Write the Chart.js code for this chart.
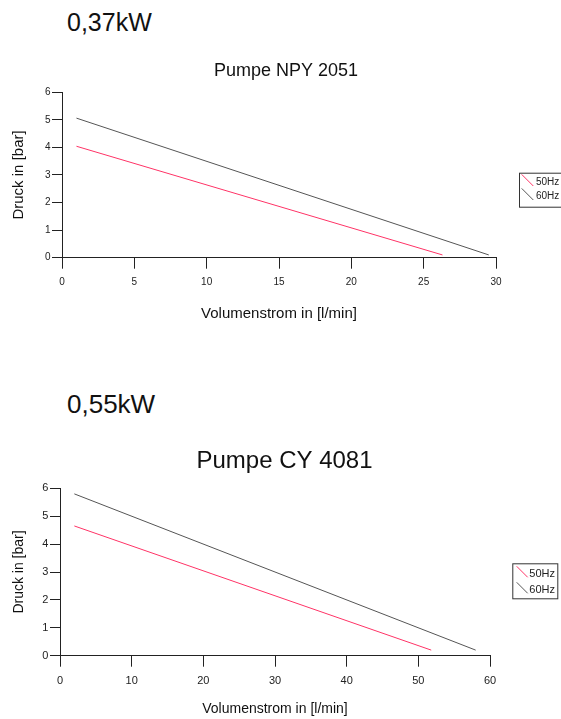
<!DOCTYPE html>
<html>
<head>
<meta charset="utf-8">
<script src="https://cdn.jsdelivr.net/npm/chart.js@4"></script>
<style>
  html, body { margin: 0; padding: 0; background: #fff; }
  body { width: 561px; height: 719px; position: relative; overflow: hidden; font-family: "Liberation Sans", Arial, sans-serif; color: #111; }
  .kw { position: absolute; left: 67px; white-space: nowrap; }
  .box { position: absolute; left: 0; width: 561px; }
</style>
</head>
<body>
<div class="kw" style="top:10px; font-size:25px; line-height:25px;">0,37kW</div>
<div class="box" style="top:40px; height:290px;"><canvas id="chartNpy"></canvas></div>
<div class="kw" style="top:391px; font-size:26px; line-height:26px;">0,55kW</div>
<div class="box" style="top:420px; height:299px;"><canvas id="chartCy"></canvas></div>
<script>
// Werte
const seriesLabels = ['50Hz', '60Hz'];
const seriesColors = ['#ff3366', '#555555'];

// Pumpe NPY 2051
const npyFlow50 = [1, 26.3];
const npyPressure50 = [4.04, 0.1];
const npyFlow60 = [1, 29.5];
const npyPressure60 = [5.06, 0.1];
const npyFlowTicks = [0, 5, 10, 15, 20, 25, 30];
const npyPressureTicks = [0, 1, 2, 3, 4, 5, 6];

// Pumpe CY 4081
const cyFlow50 = [2, 51.8];
const cyPressure50 = [4.65, 0.2];
const cyFlow60 = [2, 58];
const cyPressure60 = [5.8, 0.2];
const cyFlowTicks = [0, 10, 20, 30, 40, 50, 60];
const cyPressureTicks = [0, 1, 2, 3, 4, 5, 6];

Chart.defaults.font.family = '"Liberation Sans", Arial, sans-serif';
Chart.defaults.color = '#222';

function toPoints(xs, ys) {
    return xs.map((x, i) => ({ x: x, y: ys[i] }));
}

// Legende mit Rahmen und schraegem Strich, wie im Original
const boxedLegend = {
    id: 'boxedLegend',
    afterDraw(chart, args, opts) {
        const ctx = chart.ctx;
        ctx.save();
        ctx.strokeStyle = '#333';
        ctx.lineWidth = 1;
        ctx.strokeRect(opts.left + 0.5, opts.top + 0.5, opts.width, opts.height);
        ctx.font = opts.fontSize + 'px "Liberation Sans", Arial, sans-serif';
        ctx.textBaseline = 'middle';
        ctx.textAlign = 'left';
        chart.data.datasets.forEach((ds, i) => {
            const cy = opts.top + opts.firstRow + i * opts.rowGap;
            const sx = opts.left + opts.symbolLeft;
            const sy = cy - opts.symbolShift - opts.symbolSize / 2;
            ctx.strokeStyle = ds.borderColor;
            ctx.beginPath();
            ctx.moveTo(sx, sy);
            ctx.lineTo(sx + opts.symbolSize, sy + opts.symbolSize);
            ctx.stroke();
            ctx.fillStyle = '#222';
            ctx.fillText(ds.label, opts.left + opts.textLeft, cy);
        });
        ctx.restore();
    }
};

function makeChart(canvasId, cfg) {
    const datasets = cfg.series.map((s, i) => ({
        label: seriesLabels[i],
        data: toPoints(s[0], s[1]),
        borderColor: seriesColors[i],
        backgroundColor: seriesColors[i],
        borderWidth: 1,
        pointRadius: 0,
        fill: false,
        tension: 0
    }));

    return new Chart(document.getElementById(canvasId), {
        type: 'line',
        data: { datasets: datasets },
        plugins: [boxedLegend],
        options: {
            responsive: true,
            maintainAspectRatio: false,
            animation: false,
            layout: { padding: { left: cfg.padLeft, right: 0, top: 0, bottom: 0 } },
            plugins: {
                legend: { display: false },
                tooltip: { enabled: false },
                title: {
                    display: true,
                    text: cfg.title,
                    color: '#111',
                    font: { size: cfg.titleSize, weight: 'normal' },
                    padding: { top: cfg.titleTop, bottom: cfg.titleBottom }
                },
                boxedLegend: cfg.legend
            },
            scales: {
                x: {
                    type: 'linear',
                    min: cfg.xTicks[0],
                    max: cfg.xTicks[cfg.xTicks.length - 1],
                    afterBuildTicks: s => { s.ticks = cfg.xTicks.map(v => ({ value: v })); },
                    afterFit: s => { s.height = cfg.xHeight; },
                    grid: { drawOnChartArea: false, drawTicks: true, tickLength: 11, color: '#222' },
                    border: { display: true, color: '#222', width: 1 },
                    ticks: { font: { size: cfg.tickSize }, padding: cfg.xTickPad, maxRotation: 0, color: '#222' },
                    title: {
                        display: true,
                        text: 'Volumenstrom in [l/min]',
                        color: '#111',
                        font: { size: cfg.axisTitleSize },
                        padding: { top: 0, bottom: cfg.xTitleBottom }
                    }
                },
                y: {
                    type: 'linear',
                    min: cfg.yTicks[0],
                    max: cfg.yTicks[cfg.yTicks.length - 1],
                    afterBuildTicks: s => { s.ticks = cfg.yTicks.map(v => ({ value: v })); },
                    afterFit: s => { s.width = cfg.yWidth; },
                    grid: { drawOnChartArea: false, drawTicks: true, tickLength: 10, color: '#222' },
                    border: { display: true, color: '#222', width: 1 },
                    ticks: { font: { size: cfg.tickSize }, padding: cfg.yTickPad, color: '#222' },
                    title: {
                        display: true,
                        text: 'Druck in [bar]',
                        color: '#111',
                        font: { size: cfg.axisTitleSize },
                        padding: { top: cfg.yTitlePad, bottom: 0 }
                    }
                },
                // leere rechte Achse haelt Platz fuer die Legende frei
                legendSpace: {
                    type: 'linear',
                    position: 'right',
                    afterFit: s => { s.width = cfg.rightSpace; },
                    grid: { display: false },
                    border: { display: false },
                    ticks: { display: false },
                    title: { display: false }
                }
            }
        }
    });
}

makeChart('chartNpy', {
    title: 'Pumpe NPY 2051',
    titleSize: 18, titleTop: 19.8, titleBottom: 10.8,
    series: [[npyFlow50, npyPressure50], [npyFlow60, npyPressure60]],
    xTicks: npyFlowTicks, yTicks: npyPressureTicks,
    padLeft: 11, rightSpace: 65, xHeight: 72.3, yWidth: 51,
    tickSize: 10, xTickPad: 8, yTickPad: 1.5,
    axisTitleSize: 15, xTitleBottom: 7, yTitlePad: -0.8,
    legend: { left: 519, top: 132.7, width: 50, height: 34, symbolLeft: 2.7, symbolSize: 11.6,
              symbolShift: 2.5, textLeft: 17, firstRow: 10, rowGap: 14, fontSize: 10 }
});

makeChart('chartCy', {
    title: 'Pumpe CY 4081',
    titleSize: 24, titleTop: 27.3, titleBottom: 12.2,
    series: [[cyFlow50, cyPressure50], [cyFlow60, cyPressure60]],
    xTicks: cyFlowTicks, yTicks: cyPressureTicks,
    padLeft: 8, rightSpace: 71, xHeight: 63.3, yWidth: 52,
    tickSize: 11, xTickPad: 7.7, yTickPad: 1.7,
    axisTitleSize: 14, xTitleBottom: 1.3, yTitlePad: 3.1,
    legend: { left: 512.3, top: 143.3, width: 45, height: 35, symbolLeft: 4.4, symbolSize: 11,
              symbolShift: 2.2, textLeft: 17, firstRow: 10.7, rowGap: 16, fontSize: 11 }
});
</script>
</body>
</html>
